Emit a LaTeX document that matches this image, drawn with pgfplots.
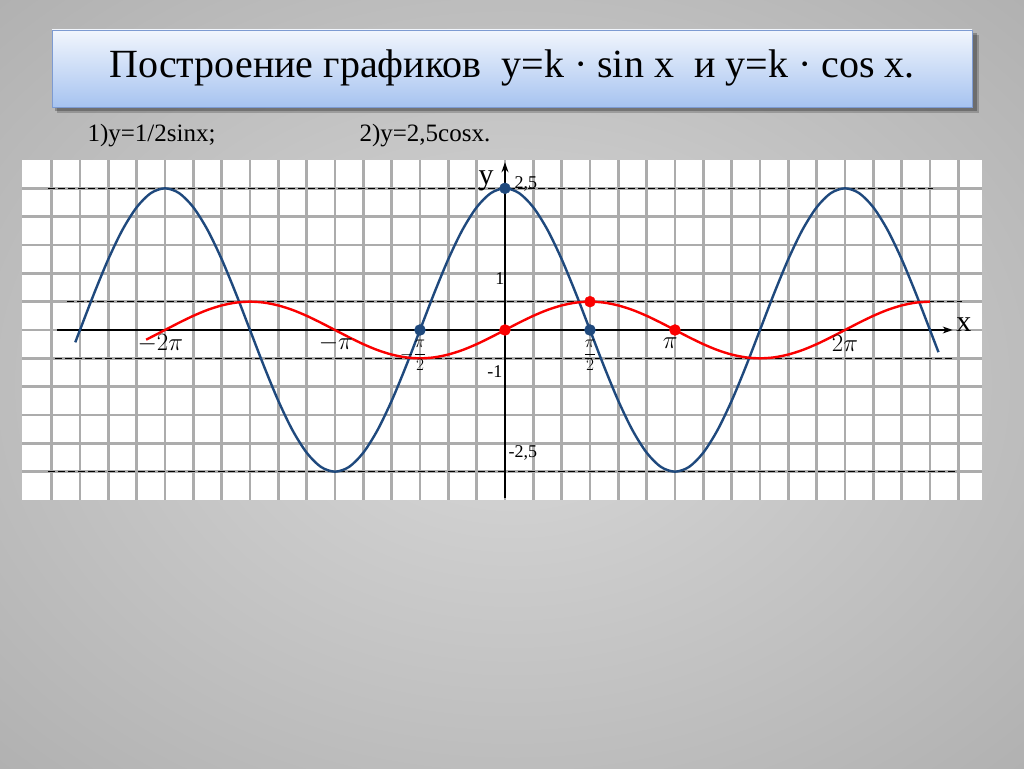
\documentclass[border=0pt]{standalone}
\usepackage{fontspec}
\setmainfont{Liberation Serif}
\usepackage{amsmath}
\usepackage{pgfplots}
\pgfplotsset{compat=1.18}
\usetikzlibrary{arrows.meta}
\definecolor{cblue}{RGB}{31,73,125}
\definecolor{cred}{RGB}{250,0,0}
\definecolor{gridgray}{RGB}{172,172,172}
\pgfdeclareradialshading{bgshade}{\pgfpoint{0bp}{0bp}}{rgb(0bp)=(0.85,0.85,0.85); rgb(50bp)=(0.63,0.63,0.63); rgb(71bp)=(0.48,0.48,0.48)}
\begin{document}
\begin{tikzpicture}[x=1pt,y=1pt]
\shade[shading=bgshade] (0,0) rectangle (1024,768);
% title box
\fill[black,opacity=0.25] (55,657) rectangle (977,735);
\fill[black,opacity=0.2] (57,655) rectangle (979,733);
\shade[top color={rgb,255:red,242;green,246;blue,253}, bottom color={rgb,255:red,166;green,195;blue,240}, draw={rgb,255:red,125;green,155;blue,210}] (52,661) rectangle (972,738);
\node[font=\fontsize{40}{48}\selectfont] at (512,700) {Построение графиков\ \ y=k · sin x\ \ и y=k · cos x.};
\node[anchor=base west, font=\fontsize{25}{29}\selectfont] at (84,626) {1)y=1/2sinx;};
\node[anchor=base west, font=\fontsize{25}{29}\selectfont] at (356,626) {2)y=2,5cosx.};
\coordinate (AX) at (22,268);
\begin{axis}[at={(AX)}, anchor=south west, scale only axis,
  width=960pt, height=340pt,
  xmin=-511.4, xmax=505.1, ymin=-3, ymax=3,
  xtick={-480,-450,...,480}, ytick={-2.5,-2,-1.5,-1,-0.5,0,0.5,1,1.5,2,2.5},
  xticklabels={}, yticklabels={},
  grid=major, major grid style={draw=gridgray, line width=2.4pt},
  axis line style={draw=none}, tick style={draw=none},
  axis background/.style={fill=white},
  clip=false]
% dashed guide lines
\addplot[black, line width=1.4pt, dash pattern=on 7pt off 3pt] coordinates {(-484,2.5) (453,2.5)};
\addplot[black, line width=1.4pt, dash pattern=on 7pt off 3pt] coordinates {(-464,0.5) (484,0.5)};
\addplot[black, line width=1.4pt, dash pattern=on 7pt off 3pt] coordinates {(-476,-0.5) (473,-0.5)};
\addplot[black, line width=1.4pt, dash pattern=on 7pt off 3pt] coordinates {(-484,-2.5) (479,-2.5)};
% axes
\addplot[black, line width=1.2pt, -{Stealth[length=10pt,width=7pt]}] coordinates {(-474,0) (474,0)};
\addplot[black, line width=1.2pt, -{Stealth[length=10pt,width=7pt]}] coordinates {(0,-2.97) (0,2.96)};
% blue: y = 2.5 cos x
\addplot[cblue, line width=2.4pt, smooth] coordinates {
(-455,-0.218) (-450,0) (-435,0.647) (-420,1.25) (-405,1.768) (-390,2.165) (-375,2.415)
(-360,2.5) (-345,2.415) (-330,2.165) (-315,1.768) (-300,1.25) (-285,0.647) (-270,0)
(-255,-0.647) (-240,-1.25) (-225,-1.768) (-210,-2.165) (-195,-2.415) (-180,-2.5)
(-165,-2.415) (-150,-2.165) (-135,-1.768) (-120,-1.25) (-105,-0.647) (-90,0)
(-75,0.647) (-60,1.25) (-45,1.768) (-30,2.165) (-15,2.415) (0,2.5)
(15,2.415) (30,2.165) (45,1.768) (60,1.25) (75,0.647) (90,0)
(105,-0.647) (120,-1.25) (135,-1.768) (150,-2.165) (165,-2.415) (180,-2.5)
(195,-2.415) (210,-2.165) (225,-1.768) (240,-1.25) (255,-0.647) (270,0)
(285,0.647) (300,1.25) (315,1.768) (330,2.165) (345,2.415) (360,2.5)
(375,2.415) (390,2.165) (405,1.768) (420,1.25) (435,0.647) (450,0) (459,-0.391)};
% red: y = 0.5 sin x
\addplot[cred, line width=2.4pt, smooth] coordinates {
(-380,-0.171) (-375,-0.129) (-360,0) (-345,0.129) (-330,0.25) (-315,0.354) (-300,0.433)
(-285,0.483) (-270,0.5) (-255,0.483) (-240,0.433) (-225,0.354) (-210,0.25) (-195,0.129)
(-180,0) (-165,-0.129) (-150,-0.25) (-135,-0.354) (-120,-0.433) (-105,-0.483) (-90,-0.5)
(-75,-0.483) (-60,-0.433) (-45,-0.354) (-30,-0.25) (-15,-0.129) (0,0)
(15,0.129) (30,0.25) (45,0.354) (60,0.433) (75,0.483) (90,0.5)
(105,0.483) (120,0.433) (135,0.354) (150,0.25) (165,0.129) (180,0)
(195,-0.129) (210,-0.25) (225,-0.354) (240,-0.433) (255,-0.483) (270,-0.5)
(285,-0.483) (300,-0.433) (315,-0.354) (330,-0.25) (345,-0.129) (360,0)
(375,0.129) (390,0.25) (405,0.354) (420,0.433) (435,0.483) (450,0.5)};
% labels
\node[font=\fontsize{23}{27}\selectfont] at (axis cs:-365,-0.23) {$-2\pi$};
\node[font=\fontsize{23}{27}\selectfont] at (axis cs:-179,-0.23) {$-\pi$};
\node[font=\fontsize{23}{27}\selectfont] at (axis cs:175,-0.23) {$\pi$};
\node[font=\fontsize{23}{27}\selectfont] at (axis cs:360,-0.23) {$2\pi$};
\node[font=\fontsize{19}{22}\selectfont] at (axis cs:-90,-0.45) {\llap{$-$}$\dfrac{\pi}{2}$};
\node[font=\fontsize{19}{22}\selectfont] at (axis cs:90,-0.45) {$\dfrac{\pi}{2}$};
\node[font=\fontsize{18}{22}\selectfont] at (axis cs:22,2.575) {2,5};
\node[font=\fontsize{18}{22}\selectfont] at (axis cs:-5.3,0.9) {1};
\node[font=\fontsize{18}{22}\selectfont] at (axis cs:-10.6,-0.74) {-1};
\node[font=\fontsize{18}{22}\selectfont] at (axis cs:19,-2.17) {-2,5};
\node[font=\fontsize{30}{34}\selectfont] at (axis cs:-20,2.63) {y};
\node[font=\fontsize{30}{34}\selectfont] at (axis cs:486,0.1) {x};
% dots
\addplot[only marks, mark=*, mark size=5.5pt, color=cblue] coordinates {(-90,0) (0,2.5) (90,0)};
\addplot[only marks, mark=*, mark size=5.5pt, color=cred] coordinates {(0,0) (90,0.5) (180,0)};
\end{axis}
\end{tikzpicture}
\end{document}
